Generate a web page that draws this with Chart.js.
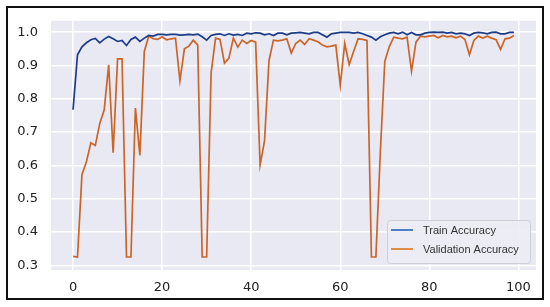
<!DOCTYPE html>
<html>
<head>
<meta charset="utf-8">
<script src="https://cdn.jsdelivr.net/npm/chart.js@4.4.0/dist/chart.umd.min.js"></script>
<style>
  html, body { margin: 0; padding: 0; background: #ffffff; }
  #wrap { width: 550px; height: 307px; position: relative; }
</style>
</head>
<body>
<div id="wrap"><canvas id="myChart" width="550" height="307"></canvas></div>
<script>
// epochs 0..99
var epochs = [];
for (var i = 0; i < 100; i++) epochs.push(i);

var trainAcc = [
    0.767, 0.932, 0.956, 0.968, 0.977, 0.981, 0.968, 0.979, 0.987, 0.980,
    0.972, 0.975, 0.960, 0.978, 0.985, 0.972, 0.982, 0.990, 0.988, 0.993,
    0.993, 0.992, 0.993, 0.993, 0.991, 0.992, 0.993, 0.992, 0.994, 0.986,
    0.976, 0.990, 0.993, 0.995, 0.990, 0.995, 0.991, 0.993, 0.990, 0.997,
    0.995, 0.998, 0.997, 0.992, 0.995, 0.990, 0.997, 0.997, 0.992, 0.997,
    0.998, 0.999, 0.997, 0.995, 0.999, 0.999, 0.992, 0.985, 0.995, 0.997,
    0.999, 0.999, 0.999, 0.997, 0.999, 0.995, 0.990, 0.985, 0.976, 0.986,
    0.992, 0.997, 0.999, 0.995, 1.000, 0.992, 0.999, 0.992, 0.992, 0.997,
    0.999, 1.000, 0.999, 1.000, 0.997, 0.999, 0.995, 0.997, 0.995, 0.990,
    0.997, 0.999, 0.998, 0.995, 0.999, 1.000, 0.995, 0.995, 0.999, 0.999
];

var valAcc = [
    0.327, 0.325, 0.572, 0.611, 0.668, 0.660, 0.726, 0.767, 0.902, 0.638,
    0.920, 0.920, 0.325, 0.325, 0.772, 0.630, 0.942, 0.988, 0.980, 0.978,
    0.986, 0.977, 0.980, 0.982, 0.854, 0.950, 0.958, 0.976, 0.961, 0.325,
    0.325, 0.878, 0.982, 0.978, 0.907, 0.922, 0.982, 0.955, 0.976, 0.966,
    0.975, 0.970, 0.601, 0.674, 0.915, 0.976, 0.974, 0.976, 0.980, 0.937,
    0.966, 0.976, 0.963, 0.980, 0.976, 0.971, 0.961, 0.956, 0.958, 0.961,
    0.840, 0.966, 0.903, 0.942, 0.980, 0.978, 0.975, 0.325, 0.325, 0.640,
    0.912, 0.956, 0.985, 0.982, 0.980, 0.985, 0.883, 0.970, 0.988, 0.986,
    0.988, 0.990, 0.983, 0.990, 0.986, 0.988, 0.983, 0.988, 0.978, 0.932,
    0.975, 0.988, 0.982, 0.988, 0.982, 0.977, 0.948, 0.980, 0.982, 0.990
];

var xTicks = [0, 20, 40, 60, 80, 100];
var yTicks = [0.3, 0.4, 0.5, 0.6, 0.7, 0.8, 0.9, 1.0];

var seriesLabels = ['Train Accuracy', 'Validation Accuracy'];
var lineColors = ['#1c3d86', '#cc6428'];
var legendColors = ['#4c7fc4', '#e08c45'];

// seaborn-like plot background, outer frame and legend box
var decorPlugin = {
    id: 'decor',
    beforeDraw: function(chart) {
        var ctx = chart.ctx;
        var a = chart.chartArea;
        ctx.save();
        ctx.fillStyle = '#ffffff';
        ctx.fillRect(0, 0, chart.width, chart.height);
        ctx.fillStyle = '#e9e9f3';
        ctx.fillRect(a.left, a.top, a.right - a.left, a.bottom - a.top);
        ctx.restore();
    },
    afterDraw: function(chart) {
        var ctx = chart.ctx;
        ctx.save();
        // legend
        var lx = 387, ly = 220, lw = 143, lh = 43;
        ctx.fillStyle = 'rgba(236,236,244,0.9)';
        ctx.strokeStyle = '#cfcfd6';
        ctx.lineWidth = 1;
        ctx.beginPath();
        ctx.roundRect(lx + 0.5, ly + 0.5, lw, lh, 3);
        ctx.fill();
        ctx.stroke();
        ctx.font = '11px "Liberation Sans", Arial, sans-serif';
        ctx.textBaseline = 'middle';
        for (var k = 0; k < seriesLabels.length; k++) {
            var yy = ly + 10 + k * 19;
            ctx.strokeStyle = legendColors[k];
            ctx.lineWidth = 2;
            ctx.beginPath();
            ctx.moveTo(lx + 4, yy);
            ctx.lineTo(lx + 26, yy);
            ctx.stroke();
            ctx.fillStyle = '#333333';
            ctx.fillText(seriesLabels[k], lx + 36, yy + 1);
        }
        // outer frame
        ctx.strokeStyle = '#111111';
        ctx.lineWidth = 2;
        ctx.strokeRect(7, 7, 536, 292);
        ctx.restore();
    }
};

var ctx = document.getElementById('myChart').getContext('2d');
var myChart = new Chart(ctx, {
    type: 'line',
    data: {
        datasets: [{
            label: seriesLabels[0],
            data: trainAcc.map((v, i) => ({ x: epochs[i], y: v })),
            borderColor: lineColors[0],
            borderWidth: 1.7,
            pointRadius: 0,
            tension: 0,
            fill: false
        }, {
            label: seriesLabels[1],
            data: valAcc.map((v, i) => ({ x: epochs[i], y: v })),
            borderColor: lineColors[1],
            borderWidth: 1.7,
            pointRadius: 0,
            tension: 0,
            fill: false
        }]
    },
    options: {
        responsive: false,
        animation: false,
        layout: { padding: { left: 0, top: 13, right: 14, bottom: 0 } },
        plugins: {
            legend: { display: false },
            tooltip: { enabled: false }
        },
        scales: {
            x: {
                type: 'linear',
                min: -4.95,
                max: 103.95,
                afterBuildTicks: function(scale) {
                    scale.ticks = xTicks.map(v => ({ value: v }));
                },
                afterFit: function(scale) { scale.height = 37; },
                grid: { color: '#ffffff', lineWidth: 1.5, drawTicks: false },
                border: { display: false },
                ticks: {
                    padding: 10,
                    color: '#222222',
                    font: { family: 'DejaVu Sans', size: 13 },
                    maxRotation: 0
                }
            },
            y: {
                min: 0.286,
                max: 1.034,
                afterBuildTicks: function(scale) {
                    scale.ticks = yTicks.map(v => ({ value: v }));
                },
                afterFit: function(scale) { scale.width = 51; },
                grid: { color: '#ffffff', lineWidth: 1.5, drawTicks: false },
                border: { display: false },
                ticks: {
                    padding: 13,
                    color: '#222222',
                    font: { family: 'DejaVu Sans', size: 13 },
                    callback: function(v) { return v.toFixed(1); }
                }
            }
        }
    },
    plugins: [decorPlugin]
});
</script>
</body>
</html>
